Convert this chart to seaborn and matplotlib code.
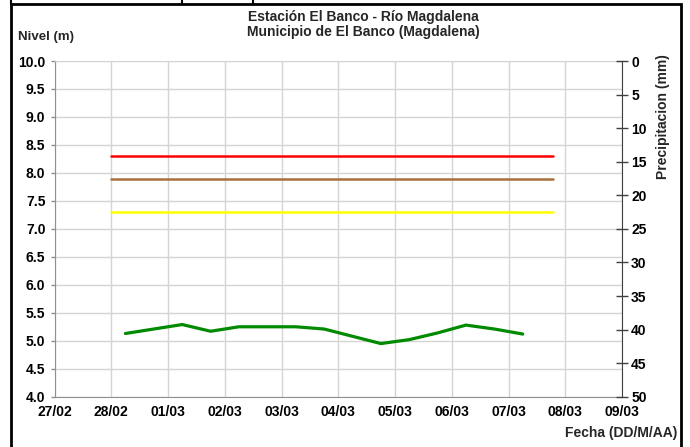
import pandas as pd
import matplotlib.pyplot as plt
import matplotlib.dates as mdates
import seaborn as sns
from matplotlib.lines import Line2D
from matplotlib.patches import Rectangle

# Lecturas del nivel (06:00 y 18:00)
fechas = ['2019-02-28 06:00', '2019-02-28 18:00', '2019-03-01 06:00', '2019-03-01 18:00',
          '2019-03-02 06:00', '2019-03-02 18:00', '2019-03-03 06:00', '2019-03-03 18:00',
          '2019-03-04 06:00', '2019-03-04 18:00', '2019-03-05 06:00', '2019-03-05 18:00',
          '2019-03-06 06:00', '2019-03-06 18:00', '2019-03-07 06:00']
nivel = [5.13, 5.21, 5.29, 5.17, 5.25, 5.25, 5.25, 5.21,
         5.08, 4.95, 5.02, 5.14, 5.28, 5.21, 5.12]

# Umbrales de alerta
umbral_fechas = ['2019-02-28 00:00', '2019-03-07 19:00']
umbral_rojo = [8.3, 8.3]
umbral_naranja = [7.9, 7.9]
umbral_amarillo = [7.3, 7.3]

x_lim = ['2019-02-27', '2019-03-09']
nivel_ticks = [4.0, 4.5, 5.0, 5.5, 6.0, 6.5, 7.0, 7.5, 8.0, 8.5, 9.0, 9.5, 10.0]
precip_ticks = [0, 5, 10, 15, 20, 25, 30, 35, 40, 45, 50]

sns.set_style('white')
plt.rcParams['font.family'] = ['Liberation Sans', 'DejaVu Sans']
plt.rcParams['font.weight'] = 'bold'

df = pd.DataFrame({'fecha': pd.to_datetime(fechas), 'nivel': nivel})
umb = pd.DataFrame({'fecha': pd.to_datetime(umbral_fechas),
                    'rojo': umbral_rojo, 'naranja': umbral_naranja,
                    'amarillo': umbral_amarillo})

fig = plt.figure(figsize=(6.9, 4.47), dpi=100)
ax = fig.add_axes([0.079, 0.1125, 0.8225, 0.751])

sns.lineplot(data=umb, x='fecha', y='rojo', color='#ff0000', lw=1.8, ax=ax)
sns.lineplot(data=umb, x='fecha', y='naranja', color='#a8703c', lw=1.8, ax=ax)
sns.lineplot(data=umb, x='fecha', y='amarillo', color='#ffff00', lw=1.8, ax=ax)
sns.lineplot(data=df, x='fecha', y='nivel', color='#008a00', lw=2.3, ax=ax)

ax.set_xlim(pd.to_datetime(x_lim))
ax.set_ylim(4, 10)
ax.set_yticks(nivel_ticks)
ax.yaxis.set_major_formatter(plt.FormatStrFormatter('%.1f'))
ax.xaxis.set_major_locator(mdates.DayLocator())
ax.xaxis.set_major_formatter(mdates.DateFormatter('%d/%m'))
ax.set_xlabel('')
ax.set_ylabel('')
ax.grid(True, color='#d4d4d4', lw=1)
ax.set_axisbelow(True)
ax.tick_params(axis='both', labelsize=10, colors='#909090', labelcolor='black',
               length=3, width=1, pad=3.5)
ax.tick_params(axis='x', length=0, pad=6)
for side in ['left', 'bottom']:
    ax.spines[side].set_color('#909090')
ax.spines['top'].set_color('#d4d4d4')
ax.spines['right'].set_visible(False)

ax2 = ax.twinx()
ax2.set_ylim(50, 0)
ax2.set_yticks(precip_ticks)
ax2.tick_params(axis='y', direction='inout', length=8, width=1, colors='#404040',
                labelcolor='black', labelsize=10, pad=2.5)
ax2.spines['right'].set_color('#404040')
for side in ['left', 'top', 'bottom']:
    ax2.spines[side].set_visible(False)

fig.text(0.526, 0.962, 'Estación El Banco - Río Magdalena', ha='center', va='center', fontsize=10)
fig.text(0.526, 0.928, 'Municipio de El Banco (Magdalena)', ha='center', va='center', fontsize=10)
fig.text(0.026, 0.917, 'Nivel (m)', ha='left', va='center', fontsize=9.5)
fig.text(0.982, 0.031, 'Fecha (DD/M/AA)', ha='right', va='center', fontsize=10)
fig.text(0.961, 0.74, 'Precipitacion (mm)', ha='center', va='center', rotation=90, fontsize=10)

# marco exterior
fig.add_artist(Rectangle((0.0165, -0.05), 0.971, 1.04, transform=fig.transFigure,
                         fill=False, ec='black', lw=2))
for xl in [0.0165, 0.264, 0.367]:
    fig.add_artist(Line2D([xl, xl], [0.99, 1.0], transform=fig.transFigure, color='black', lw=1.5))

fig.savefig('out.png', dpi=100)
